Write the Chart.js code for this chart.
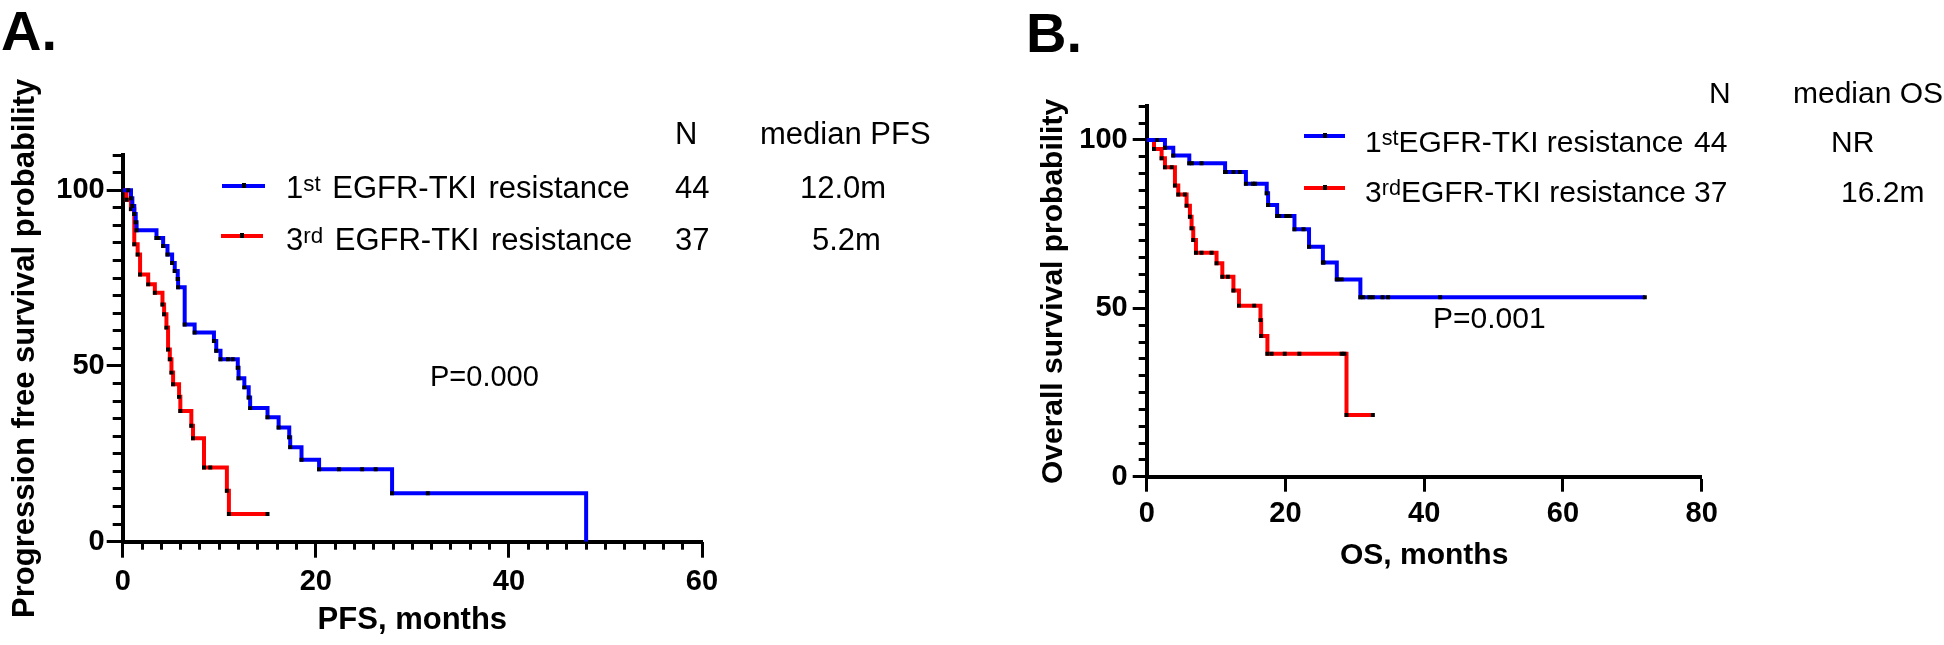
<!DOCTYPE html>
<html>
<head>
<meta charset="utf-8">
<script src="https://cdn.jsdelivr.net/npm/chart.js@4.4.1/dist/chart.umd.min.js"></script>
<style>
  html, body { margin: 0; padding: 0; background: #fff; }
  #page { position: relative; width: 1944px; height: 645px; overflow: hidden; font-family: "Liberation Sans", Arial, Helvetica, sans-serif; color: #000; }
  canvas { position: absolute; top: 0; }
  .txt { position: absolute; white-space: nowrap; font-size: 30px; line-height: 30px; }
  .txt.a { font-size: 31px; line-height: 31px; }
  .txt sup { font-size: 0.72em; position: relative; top: -0.32em; vertical-align: baseline; line-height: 0; }
  .panel { position: absolute; font-weight: bold; font-size: 56px; line-height: 56px; }
  .swatch { position: absolute; height: 4px; }
  .swatch i { position: absolute; left: 50%; top: -1px; width: 4px; height: 5px; margin-left: -2px; background: #000; }
</style>
</head>
<body>
<div id="page">
  <canvas id="pfsChart" width="760" height="645" style="left:0"></canvas>
  <canvas id="osChart" width="944" height="645" style="left:1000px"></canvas>

  <div class="panel" style="left:1px;top:3px">A.</div>
  <div class="panel" style="left:1026px;top:5px">B.</div>

  <!-- panel A legend -->
  <div class="txt a" style="left:675px;top:118px">N</div>
  <div class="txt a" style="left:760px;top:118px">median PFS</div>
  <div class="swatch" style="left:222px;top:184px;width:43px;background:#0000ff"><i></i></div>
  <div class="txt a" style="left:286px;top:172px;word-spacing:3px">1<sup>st</sup> EGFR-TKI resistance</div>
  <div class="txt a" style="left:675px;top:172px">44</div>
  <div class="txt a" style="left:800px;top:172px">12.0m</div>
  <div class="swatch" style="left:221px;top:234px;width:42px;background:#ff0000"><i></i></div>
  <div class="txt a" style="left:286px;top:224px;word-spacing:3px">3<sup>rd</sup> EGFR-TKI resistance</div>
  <div class="txt a" style="left:675px;top:224px">37</div>
  <div class="txt a" style="left:812px;top:224px">5.2m</div>
  <div class="txt" style="left:430px;top:362px;font-size:29px;line-height:29px">P=0.000</div>

  <!-- panel B legend -->
  <div class="txt" style="left:1709px;top:78px">N</div>
  <div class="txt" style="left:1793px;top:78px">median OS</div>
  <div class="swatch" style="left:1304px;top:134px;width:41px;background:#0000ff"><i></i></div>
  <div class="txt" style="left:1365px;top:127px">1<sup>st</sup>EGFR-TKI resistance</div>
  <div class="txt" style="left:1694px;top:127px">44</div>
  <div class="txt" style="left:1831px;top:127px">NR</div>
  <div class="swatch" style="left:1304px;top:186px;width:41px;background:#ff0000"><i></i></div>
  <div class="txt" style="left:1365px;top:177px">3<sup>rd</sup>EGFR-TKI resistance</div>
  <div class="txt" style="left:1694px;top:177px">37</div>
  <div class="txt" style="left:1841px;top:177px">16.2m</div>
  <div class="txt" style="left:1433px;top:303px">P=0.001</div>
</div>

<script>
// Kaplan-Meier readings (months, survival %) taken off the two panels
const pfsFirstMonths = [0.86, 1.0, 1.2, 1.35, 1.44, 3.5, 4.19, 4.64, 5.12, 5.39, 5.7, 5.74, 6.42, 7.45, 9.45, 9.69, 10.13, 11.92, 12.0, 12.6, 13.05, 13.2, 15.0, 16.15, 17.25, 17.35, 18.52, 20.34, 27.9, 48.0];
const pfsFirstSurv = [97.7, 95.5, 93.2, 90.9, 88.6, 86.4, 84.1, 81.7, 79.3, 77.0, 74.7, 72.4, 61.8, 59.5, 57.1, 54.3, 51.9, 49.5, 46.5, 43.9, 41.0, 38.0, 35.4, 32.5, 29.7, 26.9, 23.3, 20.6, 13.8, 0];
const pfsFirstCensored = [0.58, 3.7, 10.9, 11.4, 22.4, 24.8, 26.2, 31.6];

const pfsThirdMonths = [0.4, 0.85, 1.2, 1.55, 1.8, 2.64, 3.33, 4.12, 4.29, 4.53, 4.7, 4.88, 5.05, 5.22, 5.84, 5.97, 7.11, 7.28, 8.42, 10.79, 11.0];
const pfsThirdSurv = [97.3, 94.6, 84.6, 81.7, 76.0, 73.2, 70.8, 67.5, 64.7, 60.9, 54.7, 51.9, 48.1, 44.8, 41.2, 37.2, 33.0, 29.4, 21.1, 14.5, 7.9];
const pfsThirdCensored = [9.07, 15.0];

const osFirstMonths = [2.63, 3.83, 6.14, 11.3, 14.3, 17.3, 17.5, 18.8, 21.3, 23.4, 25.4, 27.4, 30.8];
const osFirstSurv = [97.7, 95.4, 93.1, 90.5, 87.0, 84.2, 80.7, 77.4, 73.5, 68.3, 63.6, 58.6, 53.3];
const osFirstCensored = [1.5, 6.5, 7.9, 11.4, 12.5, 13.4, 15.3, 15.6, 19.1, 20.1, 20.6, 22.6, 25.5, 27.6, 28.1, 31.2, 32.1, 32.6, 34.0, 34.8, 42.3, 71.8];

const osThirdMonths = [1.05, 2.15, 2.63, 4.07, 4.55, 5.75, 6.23, 6.47, 6.71, 7.1, 10.07, 10.9, 12.5, 13.3, 16.4, 16.5, 17.4, 28.8];
const osThirdSurv = [97.3, 94.6, 91.9, 86.5, 83.8, 80.5, 77.2, 73.8, 70.3, 66.5, 63.4, 59.4, 55.3, 50.8, 46.5, 41.8, 36.5, 18.3];
const osThirdCensored = [3.6, 5.5, 7.9, 9.35, 11.7, 15.5, 18.0, 19.9, 22.0, 28.1, 28.5, 32.6];

const FONT = '"Liberation Sans", Arial, Helvetica, sans-serif';
const BLUE = '#0000ff';
const RED = '#ff0000';

// merge events and censor marks into one step series starting at 100%
function kmSeries(months, surv, censored) {
  const pts = [{ x: 0, y: 100 }];
  months.forEach((t, i) => pts.push({ x: t, y: surv[i], c: 0 }));
  censored.forEach(t => pts.push({ x: t, y: null, c: 1 }));
  pts.sort((a, b) => a.x - b.x || a.c - b.c);
  let level = 100;
  pts.forEach(p => { if (p.y === null) p.y = level; else level = p.y; });
  return pts;
}

function kmDataset(data, color) {
  return {
    data,
    borderColor: color,
    borderWidth: 4,
    stepped: true,
    fill: false,
    pointStyle: 'rect',
    pointBackgroundColor: '#000',
    pointBorderWidth: 0,
    pointRadius: ctx => (ctx.raw && (ctx.raw.x === 0 || ctx.raw.y === 0)) ? 0 : 2.8
  };
}

// major axis (labels, long ticks) + a zero-size companion axis for the minor ticks
function majorAxis(o) {
  return {
    type: 'linear', position: o.position, weight: 1,
    min: 0, max: o.max,
    ticks: { stepSize: o.step, includeBounds: false, color: '#000', padding: o.pad, font: { family: FONT, size: 29, weight: 'bold' } },
    grid: { drawOnChartArea: false, color: '#000', tickColor: '#000', tickLength: o.tick, tickWidth: 3 },
    border: { color: '#000', width: 4 },
    title: { display: true, text: o.title, color: '#000', font: { family: FONT, size: o.titleSize, weight: 'bold' }, padding: o.titlePad },
    afterFit: o.fit
  };
}

function minorAxis(o) {
  const horizontal = o.position === 'bottom';
  return {
    type: 'linear', position: o.position, weight: 0,
    min: 0, max: o.max,
    ticks: { display: false, stepSize: o.step },
    grid: { drawOnChartArea: false, color: '#000', tickColor: '#000', tickLength: o.tick, tickWidth: 3 },
    border: { display: false },
    afterFit: s => { if (horizontal) s.height = 0; else s.width = 0; }
  };
}

function baseOptions(padding, scales) {
  return {
    responsive: false,
    animation: false,
    events: [],
    layout: { padding },
    plugins: { legend: { display: false }, tooltip: { enabled: false } },
    scales
  };
}

function renderPfs() {
  const ctx = document.getElementById('pfsChart').getContext('2d');
  new Chart(ctx, {
    type: 'line',
    data: {
      datasets: [
        kmDataset(kmSeries(pfsFirstMonths, pfsFirstSurv, pfsFirstCensored), BLUE),
        kmDataset(kmSeries(pfsThirdMonths, pfsThirdSurv, pfsThirdCensored), RED)
      ]
    },
    options: baseOptions({ top: 155, right: 58, bottom: 0, left: 0 }, {
      x: majorAxis({ position: 'bottom', max: 60, step: 20, pad: 7, tick: 16, title: 'PFS, months', titleSize: 31, titlePad: { top: 0, bottom: 6 }, fit: s => { s.height = 103.3; } }),
      xMinor: minorAxis({ position: 'bottom', max: 60, step: 2, tick: 8 }),
      y: majorAxis({ position: 'left', max: 110, step: 50, pad: 2, tick: 16, title: 'Progression free survival probability', titleSize: 31, titlePad: { top: 7, bottom: 0 }, fit: s => { s.width = 122.7; } }),
      yMinor: minorAxis({ position: 'left', max: 110, step: 5, tick: 10 })
    })
  });
}

function renderOs() {
  const ctx = document.getElementById('osChart').getContext('2d');
  new Chart(ctx, {
    type: 'line',
    data: {
      datasets: [
        kmDataset(kmSeries(osFirstMonths, osFirstSurv, osFirstCensored), BLUE),
        kmDataset(kmSeries(osThirdMonths, osThirdSurv, osThirdCensored), RED)
      ]
    },
    options: baseOptions({ top: 106.3, right: 242.3, bottom: 0, left: 0 }, {
      x: majorAxis({ position: 'bottom', max: 80, step: 20, pad: 5, tick: 15, title: 'OS, months', titleSize: 30, titlePad: { top: 0, bottom: 71 }, fit: s => { s.height = 168.3; } }),
      y: majorAxis({ position: 'left', max: 110, step: 50, pad: 5, tick: 14, title: 'Overall survival probability', titleSize: 30, titlePad: { top: 36, bottom: 0 }, fit: s => { s.width = 146.7; } }),
      yMinor: minorAxis({ position: 'left', max: 110, step: 5, tick: 8 })
    })
  });
}

renderPfs();
renderOs();
</script>
</body>
</html>
